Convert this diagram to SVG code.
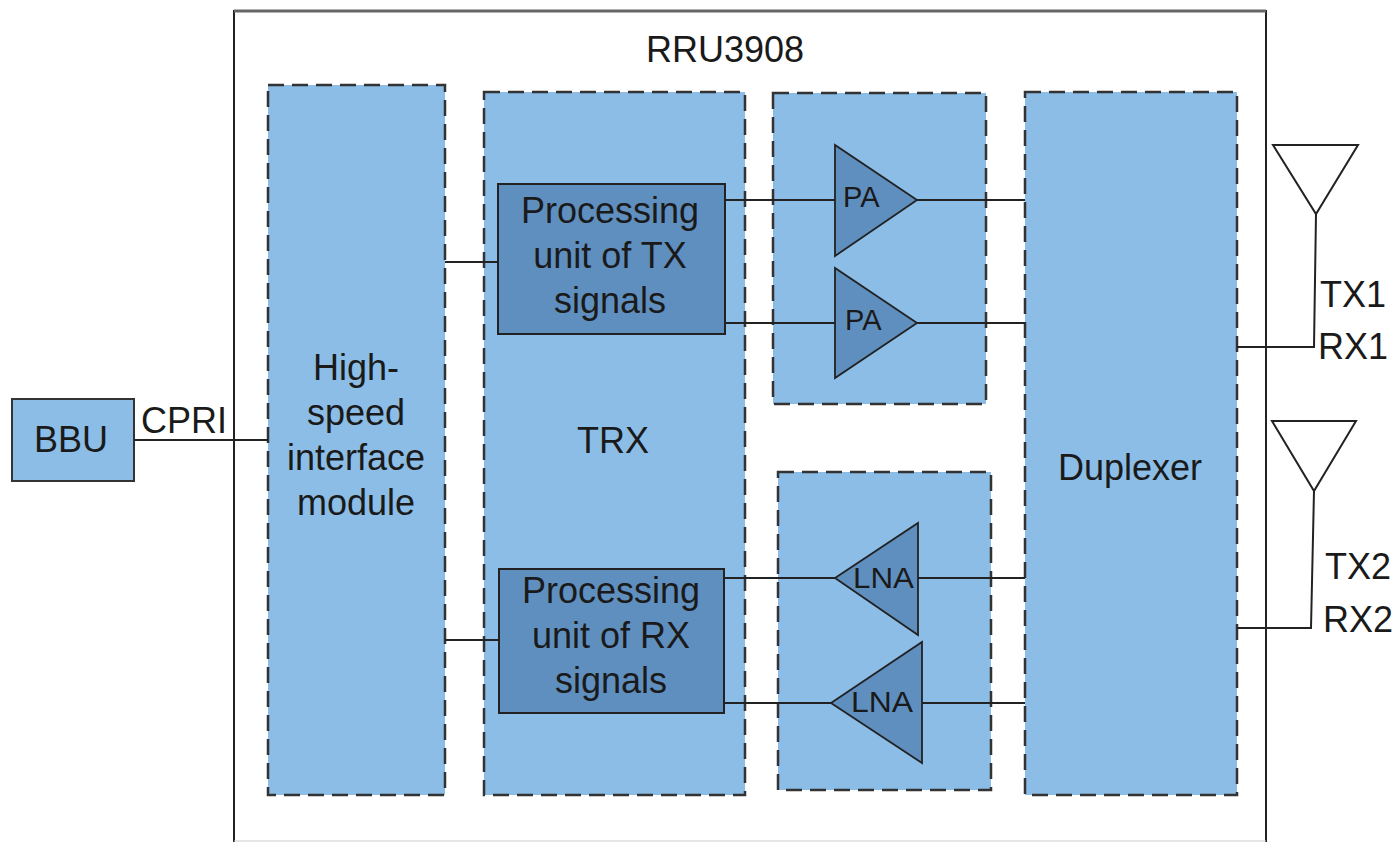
<svg xmlns="http://www.w3.org/2000/svg" width="1397" height="843" viewBox="0 0 1397 843">
<style>
.mod{fill:#8BBDE6;stroke:#333;stroke-width:2.5;stroke-dasharray:16 8}
.unit{fill:#5F8FBF;stroke:#222;stroke-width:2}
.amp{fill:#5F8FBF;stroke:#222;stroke-width:1.8;stroke-linejoin:miter}
.ant{fill:#fff;stroke:#222;stroke-width:2}
.wire{fill:none;stroke:#222;stroke-width:2}
text{font-family:"Liberation Sans",Arial,sans-serif;fill:#1a1a1a;font-size:36px}
.c{text-anchor:middle}
.s{font-size:29px}
</style>
<rect width="1397" height="843" fill="#fff"/>
<g id="rru3908">
<path d="M234,842 L234,11 L1266,11 L1266,842" fill="none" stroke="#222" stroke-width="2"/>
<line x1="234" y1="11" x2="1266" y2="11" stroke="#666" stroke-width="3"/>
<line x1="234" y1="841" x2="1266" y2="841" stroke="#ccc" stroke-width="1"/>
<text class="c" x="725" y="62">RRU3908</text>
</g>
<g id="bbu">
<rect x="12" y="399" width="122" height="82" fill="#8BBDE6" stroke="#333" stroke-width="2"/>
<text class="c" x="71" y="452">BBU</text>
</g>
<g id="high-speed">
<rect class="mod" x="268" y="85" width="177" height="710"/>
<text class="c" x="356" y="380">High-</text>
<text class="c" x="356" y="425">speed</text>
<text class="c" x="356" y="470">interface</text>
<text class="c" x="356" y="515">module</text>
</g>
<g id="trx">
<rect class="mod" x="484" y="92" width="261" height="703"/>
<text class="c" x="613" y="453">TRX</text>
</g>
<g id="pa-module">
<rect class="mod" x="773" y="93" width="213" height="311"/>
</g>
<g id="lna-module">
<rect class="mod" x="778" y="472" width="213" height="318"/>
</g>
<g id="duplexer">
<rect class="mod" x="1025" y="92" width="212" height="703"/>
<text class="c" x="1130" y="480">Duplexer</text>
</g>
<g id="connectors">
<line class="wire" x1="134" y1="440" x2="268" y2="440"/>
<line class="wire" x1="445" y1="262" x2="498" y2="262"/>
<line class="wire" x1="445" y1="640" x2="499" y2="640"/>
<line class="wire" x1="725" y1="200" x2="835" y2="200"/>
<line class="wire" x1="917" y1="200" x2="1025" y2="200"/>
<line class="wire" x1="725" y1="323" x2="835" y2="323"/>
<line class="wire" x1="917" y1="323" x2="1025" y2="323"/>
<line class="wire" x1="724" y1="578" x2="835" y2="578"/>
<line class="wire" x1="918" y1="578" x2="1025" y2="578"/>
<line class="wire" x1="724" y1="703" x2="831" y2="703"/>
<line class="wire" x1="922" y1="703" x2="1025" y2="703"/>
<path class="wire" d="M1316,214 L1314,347 L1237,347"/>
<path class="wire" d="M1314,491 L1311,628 L1237,628"/>
</g>
<g id="cpri-label"><text x="141" y="433">CPRI</text></g>
<g id="proc-tx">
<rect class="unit" x="498" y="184" width="227" height="150"/>
<text class="c" x="610" y="223">Processing</text>
<text class="c" x="610" y="268">unit of TX</text>
<text class="c" x="610" y="313">signals</text>
</g>
<g id="proc-rx">
<rect class="unit" x="499" y="569" width="225" height="144"/>
<text class="c" x="611" y="603">Processing</text>
<text class="c" x="611" y="648">unit of RX</text>
<text class="c" x="611" y="693">signals</text>
</g>
<g id="pa1">
<polygon class="amp" points="835,145 835,256 917,200"/>
<text class="s" x="843" y="207">PA</text>
</g>
<g id="pa2">
<polygon class="amp" points="835,268 835,378 917,323"/>
<text class="s" x="845" y="330">PA</text>
</g>
<g id="lna1">
<polygon class="amp" points="918,523 918,635 835,578"/>
<text class="s" x="853" y="588" textLength="61" lengthAdjust="spacingAndGlyphs">LNA</text>
</g>
<g id="lna2">
<polygon class="amp" points="922,642 922,763 831,703"/>
<text class="s" x="851" y="712" textLength="62" lengthAdjust="spacingAndGlyphs">LNA</text>
</g>
<g id="antenna1">
<polygon class="ant" points="1273,145 1358,145 1316,214"/>
<text x="1320" y="307">TX1</text>
<text x="1318" y="359">RX1</text>
</g>
<g id="antenna2">
<polygon class="ant" points="1272,421 1356,421 1314,491"/>
<text x="1325" y="579">TX2</text>
<text x="1323" y="632">RX2</text>
</g>
</svg>
